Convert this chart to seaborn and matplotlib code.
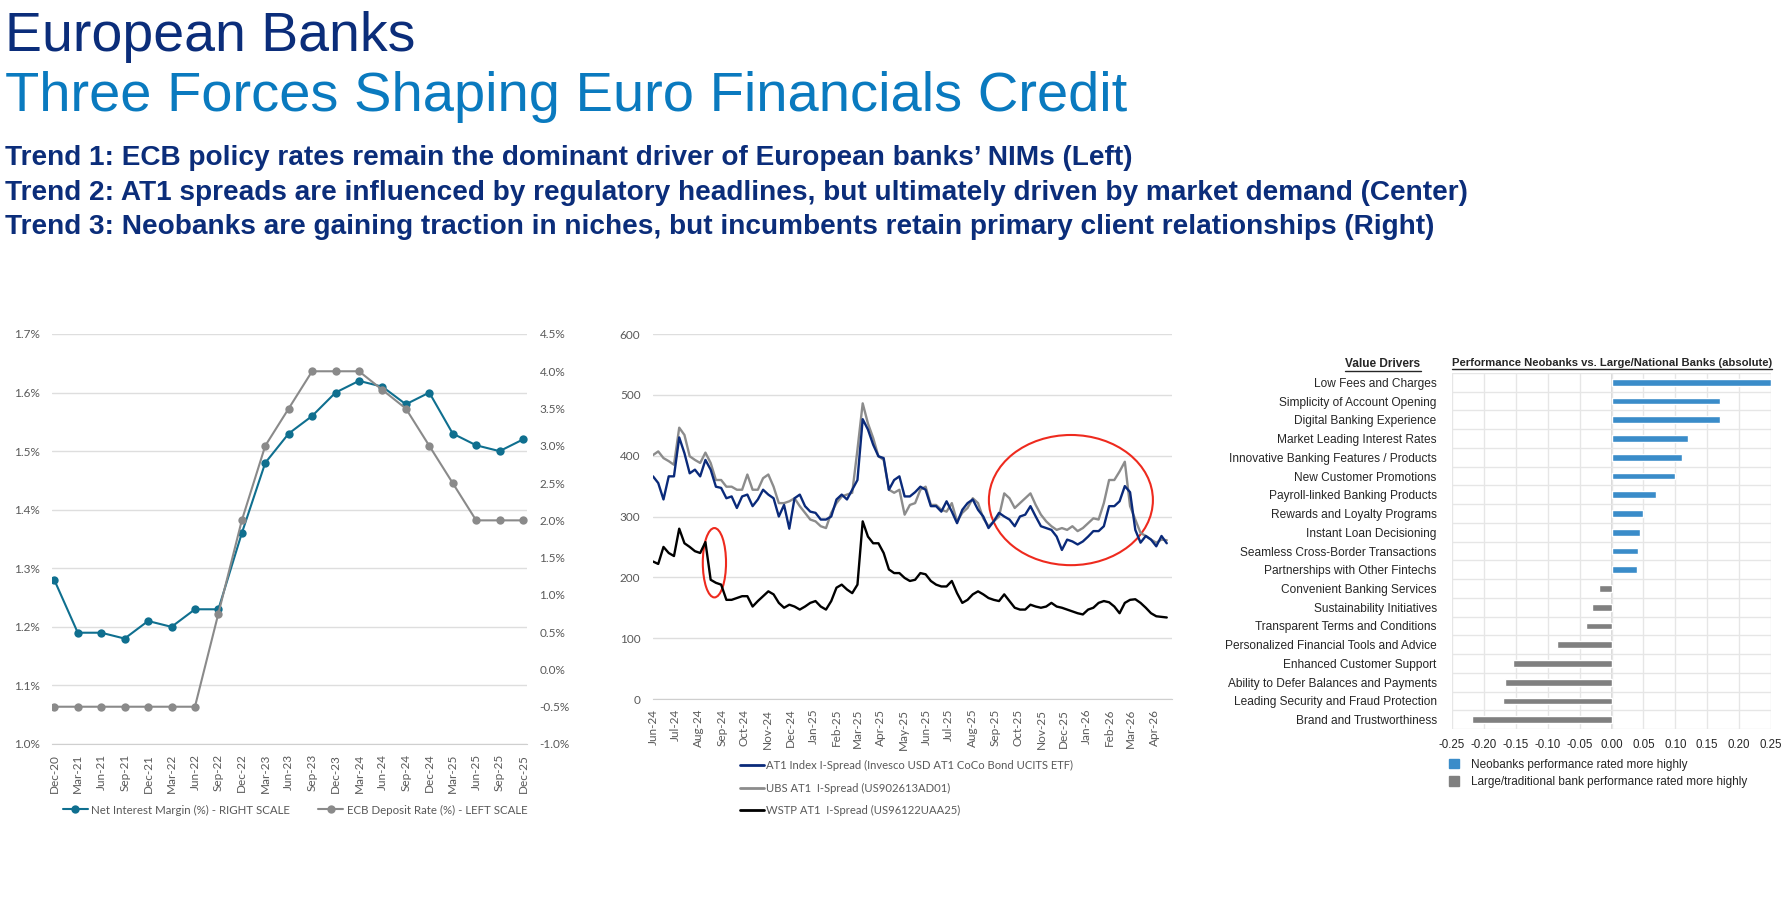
import numpy as np
import pandas as pd
import matplotlib
matplotlib.use('Agg')
import matplotlib.pyplot as plt
import matplotlib.dates as mdates
from matplotlib.patches import Ellipse, Patch
from matplotlib.lines import Line2D
from matplotlib.ticker import FuncFormatter, MultipleLocator, FixedLocator
import seaborn as sns

# --- left chart: NIM vs ECB deposit rate (quarterly) ---
quarters = ['Dec-20', 'Mar-21', 'Jun-21', 'Sep-21', 'Dec-21', 'Mar-22', 'Jun-22',
            'Sep-22', 'Dec-22', 'Mar-23', 'Jun-23', 'Sep-23', 'Dec-23', 'Mar-24',
            'Jun-24', 'Sep-24', 'Dec-24', 'Mar-25', 'Jun-25', 'Sep-25', 'Dec-25']
nim = [1.28, 1.19, 1.19, 1.18, 1.21, 1.20, 1.23, 1.23, 1.36, 1.48, 1.53,
       1.56, 1.60, 1.62, 1.61, 1.58, 1.60, 1.53, 1.51, 1.50, 1.52]
ecb_rate = [-0.5, -0.5, -0.5, -0.5, -0.5, -0.5, -0.5, 0.75, 2.0, 3.0, 3.5,
            4.0, 4.0, 4.0, 3.75, 3.5, 3.0, 2.5, 2.0, 2.0, 2.0]

# --- middle chart: AT1 I-spreads (weekly, from Jun-24) ---
spread_start = '2024-06-01'
at1_index = [366, 355, 328, 366, 366, 430, 404, 371, 377, 366, 393, 377, 349, 347, 330,
             333, 314, 333, 336, 317, 328, 344, 336, 330, 300, 319, 280, 330, 336, 317,
             308, 306, 295, 295, 300, 328, 336, 328, 344, 360, 460, 443, 418, 399, 396,
             344, 360, 366, 333, 333, 340, 349, 344, 317, 317, 308, 325, 308, 289, 311,
             322, 328, 311, 300, 281, 292, 306, 300, 295, 284, 300, 303, 317, 300, 284,
             281, 278, 267, 245, 262, 259, 254, 259, 267, 276, 276, 284, 317, 317, 325,
             350, 340, 278, 257, 268, 262, 251, 268, 256]
ubs_at1 = [401, 407, 396, 391, 385, 446, 434, 399, 393, 388, 405, 388, 360, 360, 349,
           349, 344, 344, 369, 344, 344, 363, 369, 349, 322, 322, 325, 330, 317, 306,
           295, 292, 284, 281, 306, 322, 333, 336, 339, 410, 486, 453, 429, 399, 393,
           344, 339, 344, 303, 319, 322, 344, 349, 319, 319, 311, 308, 322, 292, 306,
           314, 330, 322, 297, 284, 292, 300, 338, 330, 314, 322, 330, 338, 319, 303,
           292, 284, 278, 281, 278, 284, 276, 281, 289, 297, 295, 322, 360, 360, 374,
           390, 317, 295, 273, 268, 262, 257, 262, 261]
wstp_at1 = [226, 222, 250, 240, 235, 280, 256, 250, 243, 240, 258, 196, 191, 188, 163,
            163, 166, 169, 169, 152, 161, 169, 177, 172, 158, 150, 155, 152, 147, 152,
            158, 161, 152, 147, 161, 183, 188, 180, 174, 188, 292, 267, 256, 256, 240,
            213, 207, 207, 199, 194, 196, 207, 205, 194, 188, 185, 185, 194, 174, 158,
            163, 172, 177, 172, 166, 163, 161, 172, 161, 150, 147, 147, 155, 152, 150,
            152, 158, 152, 150, 147, 144, 141, 139, 147, 150, 158, 161, 159, 152, 141,
            158, 163, 164, 158, 150, 141, 136, 135, 134]

# --- right chart: neobanks vs large banks ---
drivers = ['Low Fees and Charges', 'Simplicity of Account Opening', 'Digital Banking Experience',
           'Market Leading Interest Rates', 'Innovative Banking Features / Products',
           'New Customer Promotions', 'Payroll-linked Banking Products',
           'Rewards and Loyalty Programs', 'Instant Loan Decisioning',
           'Seamless Cross-Border Transactions', 'Partnerships with Other Fintechs',
           'Convenient Banking Services', 'Sustainability Initiatives',
           'Transparent Terms and Conditions', 'Personalized Financial Tools and Advice',
           'Enhanced Customer Support', 'Ability to Defer Balances and Payments',
           'Leading Security and Fraud Protection', 'Brand and Trustworthiness']
performance = [0.25, 0.17, 0.17, 0.12, 0.11, 0.10, 0.07, 0.05, 0.045, 0.042, 0.04,
               -0.02, -0.03, -0.04, -0.085, -0.154, -0.167, -0.17, -0.219]

navy = '#0b2d7a'
title_blue = '#0a7abf'
teal = '#0f6f8f'
ecb_gray = '#8a8a8a'
tick_gray = '#595959'
grid_gray = '#dedede'
dark = '#262626'

sns.set_style('white')
plt.rcParams['font.family'] = ['Lato', 'DejaVu Sans']
arial = 'Liberation Sans'

W, H = 1789, 906
fig = plt.figure(figsize=(W / 100, H / 100), dpi=100)


def box(x0, y0, x1, y1):
    return [x0 / W, 1 - y1 / H, (x1 - x0) / W, (y1 - y0) / H]


# titles
fig.text(5 / W, 1 - 51 / H, 'European Banks', fontsize=40, color=navy,
         family=arial, va='baseline')
fig.text(5 / W, 1 - 111 / H, 'Three Forces Shaping Euro Financials Credit', fontsize=40.4,
         color=title_blue, family=arial, va='baseline')
trends = ["Trend 1: ECB policy rates remain the dominant driver of European banks\u2019 NIMs (Left)",
          "Trend 2: AT1 spreads are influenced by regulatory headlines, but ultimately driven by market demand (Center)",
          "Trend 3: Neobanks are gaining traction in niches, but incumbents retain primary client relationships (Right)"]
for i, t in enumerate(trends):
    fig.text(5 / W, 1 - (165 + 34.5 * i) / H, t, fontsize=20.15, color=navy, weight='bold',
             family=arial, va='baseline')

# ---------------- left chart ----------------
ax1 = fig.add_axes(box(52, 334, 527, 744))
xq = np.arange(len(quarters))
sns.lineplot(x=xq, y=nim, ax=ax1, color=teal, marker='o', markersize=6,
             markeredgewidth=0, linewidth=1.5)
ax1.set_ylim(1.0, 1.7)
ax1.set_xlim(-0.1, len(quarters) - 1 + 0.17)
ax1.yaxis.set_major_locator(MultipleLocator(0.1))
ax1.yaxis.set_major_formatter(FuncFormatter(lambda v, p: f'{v:.1f}%'))
ax1.set_xticks(xq)
ax1.set_xticklabels(quarters, rotation=90)
ax1.grid(axis='y', color=grid_gray, linewidth=1)
ax1.set_axisbelow(True)
for s in ['top', 'right', 'left']:
    ax1.spines[s].set_visible(False)
ax1.spines['bottom'].set_color('#cfcfcf')
ax1.tick_params(axis='y', length=0, pad=9, labelsize=8.5, labelcolor=tick_gray)
ax1.tick_params(axis='x', length=4, color='#cfcfcf', pad=3, labelsize=8.5, labelcolor=tick_gray)

ax2 = ax1.twinx()
sns.lineplot(x=xq, y=ecb_rate, ax=ax2, color=ecb_gray, marker='o', markersize=6,
             markeredgewidth=0, linewidth=1.5)
ax2.set_ylim(-1.0, 4.5)
ax2.yaxis.set_major_locator(MultipleLocator(0.5))
ax2.yaxis.set_major_formatter(FuncFormatter(lambda v, p: f'{v:.1f}%'))
for s in ['top', 'right', 'left', 'bottom']:
    ax2.spines[s].set_visible(False)
ax2.tick_params(axis='y', length=0, pad=9, labelsize=8.5, labelcolor=tick_gray)
ax2.set_ylabel('')
ax1.set_ylabel('')

left_handles = [Line2D([], [], color=teal, marker='o', markersize=6, markeredgewidth=0, lw=1.5),
                Line2D([], [], color=ecb_gray, marker='o', markersize=6, markeredgewidth=0, lw=1.5)]
fig.legend(left_handles, ['Net Interest Margin (%) - RIGHT SCALE', 'ECB Deposit Rate (%) - LEFT SCALE'],
           loc='center', bbox_to_anchor=(295 / W, 1 - 810 / H), ncol=2, frameon=False,
           fontsize=8.3, handlelength=2.2, columnspacing=2.4, handletextpad=0.3,
           labelcolor=tick_gray)

# ---------------- middle chart ----------------
ax3 = fig.add_axes(box(653, 334, 1172, 699))
dates = pd.date_range(spread_start, periods=len(at1_index), freq='7D')
spreads = pd.DataFrame({'date': dates, 'at1': at1_index, 'ubs': ubs_at1, 'wstp': wstp_at1})
sns.lineplot(data=spreads, x='date', y='ubs', ax=ax3, color='#8c8c8c', linewidth=1.7)
sns.lineplot(data=spreads, x='date', y='at1', ax=ax3, color='#0a2a7a', linewidth=1.7)
sns.lineplot(data=spreads, x='date', y='wstp', ax=ax3, color='#000000', linewidth=1.7)
x0 = mdates.date2num(pd.Timestamp(spread_start))
ax3.set_xlim(x0, x0 + 693)
ax3.set_ylim(0, 600)
ax3.yaxis.set_major_locator(MultipleLocator(100))
ax3.xaxis.set_major_locator(mdates.MonthLocator())
ax3.xaxis.set_major_formatter(mdates.DateFormatter('%b-%y'))
plt.setp(ax3.get_xticklabels(), rotation=90)
ax3.grid(axis='y', color=grid_gray, linewidth=1)
ax3.set_axisbelow(True)
for s in ['top', 'right', 'left']:
    ax3.spines[s].set_visible(False)
ax3.spines['bottom'].set_color('#cfcfcf')
ax3.tick_params(axis='y', length=0, pad=9, labelsize=8.5, labelcolor=tick_gray)
ax3.tick_params(axis='x', length=4, color='#cfcfcf', pad=3, labelsize=8.5, labelcolor=tick_gray)
ax3.set_xlabel('')
ax3.set_ylabel('')

# red highlight circles
ax3.add_patch(Ellipse((mdates.date2num(pd.Timestamp('2024-08-22')), 224), width=31, height=114,
                      fill=False, edgecolor='#ee2a1e', linewidth=1.5))
ax3.add_patch(Ellipse((mdates.date2num(pd.Timestamp('2025-12-11')), 327), width=219, height=214,
                      fill=False, edgecolor='#ee2a1e', linewidth=1.5))

mid_handles = [Line2D([], [], color='#0a2a7a', lw=2), Line2D([], [], color='#8c8c8c', lw=2),
               Line2D([], [], color='#000000', lw=2)]
fig.legend(mid_handles, ['AT1 Index I-Spread (Invesco USD AT1 CoCo Bond UCITS ETF)',
                         'UBS AT1  I-Spread (US902613AD01)',
                         'WSTP AT1  I-Spread (US96122UAA25)'],
           loc='center left', bbox_to_anchor=(730 / W, 1 - 788 / H), frameon=False,
           fontsize=8.1, handlelength=2.1, handletextpad=0.2, labelspacing=1.0,
           labelcolor=tick_gray)

# ---------------- right chart ----------------
ax4 = fig.add_axes(box(1452, 373, 1771, 729))
bars = pd.DataFrame({'driver': drivers, 'value': performance})
bars['group'] = np.where(bars['value'] > 0, 'neo', 'large')
sns.barplot(data=bars, y='driver', x='value', hue='group', dodge=False, width=0.36,
            palette={'neo': '#3a8cc9', 'large': '#808080'}, legend=False, ax=ax4,
            orient='h', saturation=1)
ax4.set_xlim(-0.25, 0.25)
ax4.set_ylim(len(drivers) - 0.5, -0.5)
ax4.xaxis.set_major_locator(MultipleLocator(0.05))
ax4.xaxis.set_major_formatter(FuncFormatter(lambda v, p: f'{v:.2f}' if abs(v) > 1e-9 else '0.00'))
ax4.yaxis.set_minor_locator(FixedLocator(np.arange(-0.5, len(drivers), 1)))
ax4.grid(axis='x', which='major', color='#e6e6e6', linewidth=1)
ax4.grid(axis='y', which='minor', color='#e6e6e6', linewidth=1)
ax4.set_axisbelow(True)
ax4.axvline(0, color='#d2d2d2', linewidth=1.2, zorder=0.5)
for s in ax4.spines.values():
    s.set_visible(False)
ax4.tick_params(axis='y', which='both', length=0, pad=11, labelsize=8.6, labelcolor=dark)
ax4.tick_params(axis='x', length=0, pad=7, labelsize=8.3, labelcolor=dark)
for lab in ax4.get_yticklabels() + ax4.get_xticklabels():
    lab.set_family(arial)
ax4.set_xlabel('')
ax4.set_ylabel('')

right_handles = [Patch(color='#3a8cc9'), Patch(color='#808080')]
fig.legend(right_handles, ['Neobanks performance rated more highly',
                           'Large/traditional bank performance rated more highly'],
           loc='upper left', bbox_to_anchor=(1438 / W, 1 - 748 / H), frameon=False,
           prop={'family': arial, 'size': 8.5}, handlelength=0.9, handleheight=0.9,
           handletextpad=1.0, labelspacing=0.45, labelcolor=dark)

h1 = fig.text(1383 / W, 1 - 364 / H, 'Value Drivers', ha='center', va='center',
              fontsize=8.6, weight='bold', family=arial, color=dark)
h2 = fig.text(1452 / W, 1 - 363 / H, 'Performance Neobanks vs. Large/National Banks (absolute)',
              ha='left', va='center', fontsize=8.1, weight='bold', family=arial, color=dark)

# underline the two headers
fig.canvas.draw()
for t in (h1, h2):
    bb = t.get_window_extent()
    fig.add_artist(Line2D([bb.x0 / W, bb.x1 / W], [(bb.y0 - 1) / H, (bb.y0 - 1) / H],
                          color=dark, linewidth=1, transform=fig.transFigure))

fig.savefig('out.png', dpi=100)
